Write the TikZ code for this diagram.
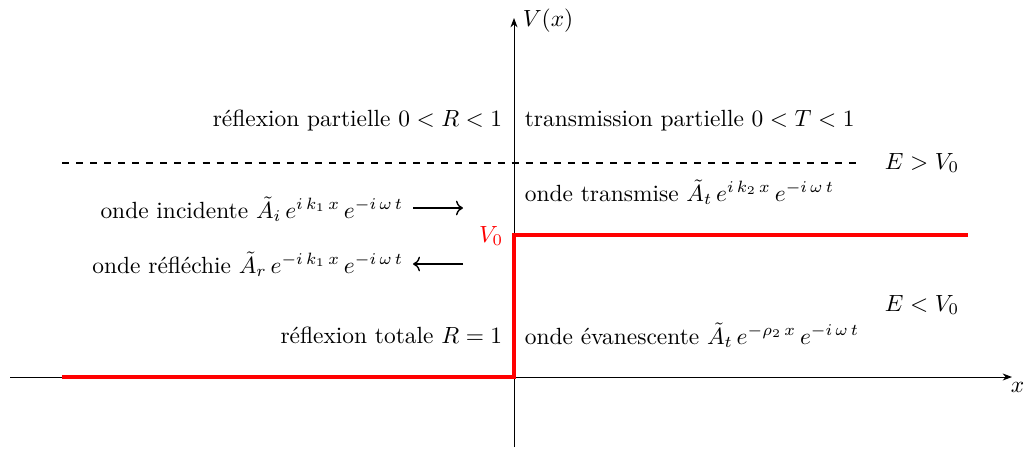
\documentclass[tikz,border=0pt]{standalone}
\usetikzlibrary{arrows.meta}
\begin{document}
\begin{tikzpicture}[x=0.427pt,y=-0.427pt,
  axis/.style={thin,-{Stealth[length=4pt,width=3pt]}},
  pot/.style={red,line width=1.3pt},
  lbl/.style={inner sep=1pt},
  wave/.style={line width=0.6pt,-{To[length=3pt]}}]
\useasboundingbox (0,0) rectangle (1026,449);
% axes
\coordinate (xs) at (10,377);
\coordinate (xe) at (1012,377);
\coordinate (vs) at (514,447);
\coordinate (ve) at (514,18);
\draw[axis] (xs) -- (xe);
\draw[axis] (vs) -- (ve);
\node[lbl,anchor=north west] (xl) at (1008,380) {$x$};
\node[lbl,anchor=west] (vl) at (520,21) {$V(x)$};
% potential
\coordinate (p1) at (62,377);
\coordinate (p2) at (514,377);
\coordinate (p3) at (514,235);
\coordinate (p4) at (968,235);
\draw[pot] (p1) -- (p2) -- (p3) -- (p4);
\node[lbl,red,anchor=east] (v0) at (506,236) {$V_0$};
% energy
\coordinate (d1) at (62,163);
\coordinate (d2) at (862,163);
\draw[dashed,line width=0.5pt] (d1) -- (d2);
\node[lbl,anchor=center] (egt) at (922,163) {$E>V_0$};
\node[lbl,anchor=center] (elt) at (922,305) {$E<V_0$};
% labels
\node[lbl,anchor=east] (rp) at (505,121) {réflexion partielle $0<R<1$};
\node[lbl,anchor=west] (tp) at (522,121) {transmission partielle $0<T<1$};
\node[lbl,anchor=east] (oi) at (406,209) {onde incidente $\tilde{A}_i\,e^{i\,k_1\,x}\,e^{-i\,\omega\,t}$};
\node[lbl,anchor=east] (orf) at (406,264) {onde réfléchie $\tilde{A}_r\,e^{-i\,k_1\,x}\,e^{-i\,\omega\,t}$};
\node[lbl,anchor=west] (ot) at (522,192) {onde transmise $\tilde{A}_t\,e^{i\,k_2\,x}\,e^{-i\,\omega\,t}$};
\node[lbl,anchor=east] (rt) at (505,335) {réflexion totale $R=1$};
\node[lbl,anchor=west] (oe) at (522,335) {onde évanescente $\tilde{A}_t\,e^{-\rho_2\,x}\,e^{-i\,\omega\,t}$};
% wave arrows
\coordinate (a1) at (413,208);
\coordinate (a2) at (463,208);
\coordinate (b1) at (463,264);
\coordinate (b2) at (413,264);
\draw[wave] (a1) -- (a2);
\draw[wave] (b1) -- (b2);
\end{tikzpicture}
\end{document}
